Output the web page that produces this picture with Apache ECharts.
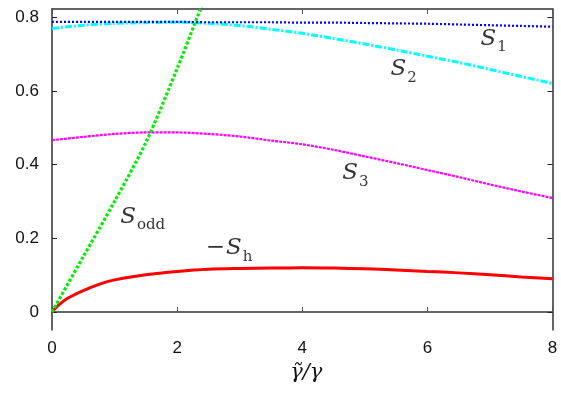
<!DOCTYPE html>
<html>
<head>
<meta charset="utf-8">
<script src="https://cdn.jsdelivr.net/npm/echarts@6/dist/echarts.min.js"></script>
<style>html,body{margin:0;padding:0;background:#fff;}#c{width:561px;height:396px;}</style>
</head>
<body>
<div id="c"></div>
<script>
// ---- data ----
var xS = [0, 0.5, 1, 1.5, 2, 2.5, 3, 3.5, 4, 4.5, 5, 5.5, 6, 6.5, 7, 7.5, 8];
var S1 = [0.787, 0.787, 0.787, 0.787, 0.787, 0.786, 0.786, 0.786, 0.785, 0.785, 0.784, 0.783, 0.782, 0.780, 0.778, 0.776, 0.774];
var S2 = [0.769, 0.778, 0.783, 0.785, 0.786, 0.783, 0.777, 0.767, 0.756, 0.742, 0.727, 0.711, 0.694, 0.677, 0.658, 0.639, 0.620];
var S3 = [0.466, 0.475, 0.483, 0.487, 0.487, 0.483, 0.476, 0.465, 0.455, 0.440, 0.422, 0.404, 0.385, 0.366, 0.346, 0.327, 0.309];
var xOdd = [0, 0.5, 1, 1.5, 2, 2.37, 2.5];
var Sodd = [0, 0.15, 0.30, 0.46, 0.66, 0.82, 0.87];
var xH = [0, 0.1, 0.25, 0.5, 0.75, 1, 1.5, 2, 2.5, 3, 3.5, 4, 4.5, 5, 5.5, 6, 6.5, 7, 7.5, 8];
var Sh = [0, 0.018, 0.037, 0.058, 0.075, 0.087, 0.101, 0.110, 0.116, 0.118, 0.119, 0.120, 0.119, 0.117, 0.114, 0.110, 0.106, 0.101, 0.095, 0.090];
var yTicks = [0, 0.2, 0.4, 0.6, 0.8];
var xTicks = [0, 2, 4, 6, 8];
var labelNames = ['S1', 'S2', 'S3', 'Sodd', 'Sh'];
var labelX = [7.06, 5.62, 4.85, 1.45, 2.83];
var labelY = [0.735, 0.651, 0.369, 0.252, 0.166];

function pairs(xs, ys) { return xs.map(function (x, i) { return [x, ys[i]]; }); }

var labelText = {
  S1: '{s|S}{sub|1}',
  S2: '{s|S}{sub|2}',
  S3: '{s|S}{sub|3}',
  Sodd: '{s|S}{sub|odd}',
  Sh: '{m|\u2212}{s|S}{sub|h}'
};

var chart = echarts.init(document.getElementById('c'), null, {renderer: 'canvas'});
var axisLineStyle = {color: '#333', width: 1.5};
var rich = {
  s: {fontFamily: 'DejaVu Serif', fontStyle: 'italic', fontSize: 23, color: '#000', lineHeight: 28, verticalAlign: 'top', padding: [0, 0, 4, 0]},
  sub: {fontFamily: 'DejaVu Serif', fontSize: 15, color: '#000', lineHeight: 28, verticalAlign: 'bottom', padding: [4, 0, 0, 1]},
  m: {fontFamily: 'DejaVu Serif', fontSize: 23, color: '#000', lineHeight: 28, verticalAlign: 'top', padding: [0, 1, 4, 0]}
};

var option = {
  animation: false,
  backgroundColor: '#fff',
  grid: {left: 52, right: 8.5, top: 9, bottom: 66},
  xAxis: [{
    type: 'value', min: 0, max: 8, position: 'bottom',
    name: '\u03b3\u0303/\u03b3', nameLocation: 'middle', nameGap: 31,
    nameTextStyle: {fontFamily: 'DejaVu Serif', fontStyle: 'italic', fontSize: 21, color: '#111', padding: [0, 0, 0, 8]},
    axisLine: {show: true, lineStyle: axisLineStyle},
    axisTick: {show: true, inside: true, length: 5, customValues: xTicks, lineStyle: {color: '#555', width: 1}},
    axisLabel: {customValues: xTicks, fontFamily: 'Liberation Sans', fontSize: 17, color: '#111', margin: 10},
    splitLine: {show: false}
  }, {
    type: 'value', min: 0, max: 8, position: 'top',
    axisLine: {show: true, onZero: false, lineStyle: axisLineStyle},
    axisTick: {show: true, inside: true, length: 5, customValues: xTicks, lineStyle: {color: '#555', width: 1}},
    axisLabel: {show: false},
    splitLine: {show: false}
  }],
  yAxis: [{
    type: 'value', min: -0.049, max: 0.822, position: 'left',
    axisLine: {show: true, onZero: false, lineStyle: axisLineStyle},
    axisTick: {show: true, inside: true, length: 5, customValues: yTicks, lineStyle: {color: '#222', width: 1}},
    axisLabel: {customValues: yTicks, fontFamily: 'Liberation Sans', fontSize: 17, color: '#111', margin: 13,
      formatter: function (v) { return v === 0 ? '0' : v.toFixed(1); }},
    splitLine: {show: false}
  }, {
    type: 'value', min: -0.049, max: 0.822, position: 'right',
    axisLine: {show: true, onZero: false, lineStyle: axisLineStyle},
    axisTick: {show: true, inside: true, length: 5, customValues: yTicks, lineStyle: {color: '#222', width: 1}},
    axisLabel: {show: false},
    splitLine: {show: false}
  }],
  series: [
    {type: 'line', name: 'Sh', data: pairs(xH, Sh), smooth: 0.3, showSymbol: false, lineStyle: {color: '#ff0000', width: 3}},
    {type: 'line', name: 'S3', data: pairs(xS, S3), smooth: 0.3, showSymbol: false, lineStyle: {color: '#ff00ff', width: 2.2, type: [3, 1]}},
    {type: 'line', name: 'S2', data: pairs(xS, S2), smooth: 0.3, showSymbol: false, lineStyle: {color: '#00ffff', width: 3, type: [7, 2, 2, 2]}},
    {type: 'line', name: 'S1', data: pairs(xS, S1), smooth: 0.3, showSymbol: false, lineStyle: {color: '#0000ff', width: 2.2, type: [2, 2]}},
    {type: 'line', name: 'Sodd', data: pairs(xOdd, Sodd), smooth: 0.3, showSymbol: false, clip: true, lineStyle: {color: '#00ee00', width: 3.2, type: [3, 2]}},
    {type: 'scatter', symbolSize: 0, silent: true,
      data: labelNames.map(function (n, i) { return [labelX[i], labelY[i], n]; }),
      label: {show: true, position: 'inside', formatter: function (p) { return labelText[p.data[2]]; }, rich: rich}}
  ]
};
chart.setOption(option);
</script>
</body>
</html>
